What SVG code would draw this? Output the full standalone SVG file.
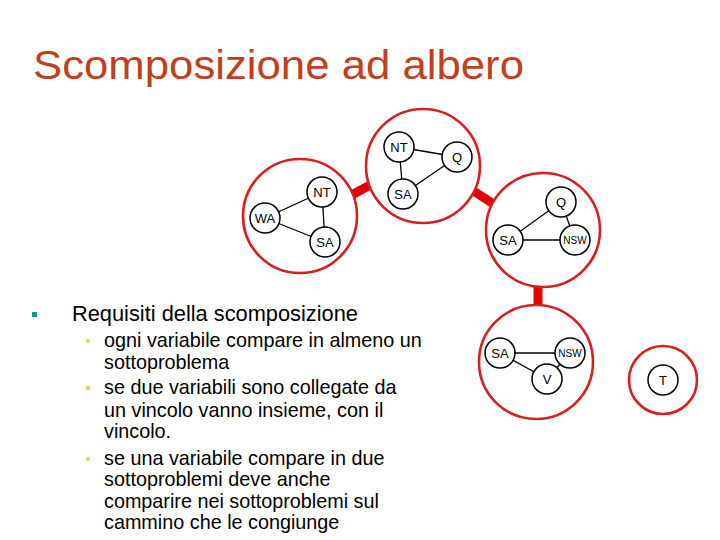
<svg xmlns="http://www.w3.org/2000/svg" width="720" height="540" viewBox="0 0 720 540">
<style>
.title{font-family:"Liberation Sans",Arial,sans-serif;font-size:40px;fill:#c0401c}
.b1{font-family:"Liberation Sans",Arial,sans-serif;font-size:21.8px;fill:#000}
.b2{font-family:"Liberation Sans",Arial,sans-serif;font-size:19.8px;fill:#000}
.grp{fill:#fff;stroke:#d61f1f;stroke-width:2.6}
.var{fill:#fff;stroke:#000;stroke-width:1.5}
.lbl{font-family:"Liberation Sans",Arial,sans-serif;font-size:13px;fill:#000;text-anchor:middle;dominant-baseline:central}
.e{stroke:#000;stroke-width:1.3}
.link{stroke:#e00000;stroke-width:9}
</style>
<rect width="720" height="540" fill="#fff"/>
<text class="title" x="33" y="79" textLength="491" lengthAdjust="spacingAndGlyphs">Scomposizione ad albero</text>

<g id="text">
<rect x="32" y="312" width="5" height="5" fill="#2e8b8b"/>
<text class="b1" x="72" y="321">Requisiti della scomposizione</text>
<rect x="86" y="339" width="4" height="4" fill="#e6d77a"/>
<rect x="86" y="386" width="4" height="4" fill="#e6d77a"/>
<rect x="86" y="457" width="4" height="4" fill="#e6d77a"/>
<text class="b2" x="104" y="347">ogni variabile compare in almeno un</text>
<text class="b2" x="104" y="369">sottoproblema</text>
<text class="b2" x="104" y="394">se due variabili sono collegate da</text>
<text class="b2" x="104" y="417">un vincolo vanno insieme, con il</text>
<text class="b2" x="104" y="438">vincolo.</text>
<text class="b2" x="104" y="465">se una variabile compare in due</text>
<text class="b2" x="104" y="486">sottoproblemi deve anche</text>
<text class="b2" x="104" y="508">comparire nei sottoproblemi sul</text>
<text class="b2" x="104" y="529">cammino che le congiunge</text>
</g>

<g id="connectors">
<line class="link" x1="350" y1="196" x2="372" y2="184"/>
<line class="link" x1="472" y1="190" x2="492" y2="203"/>
<line class="link" x1="538" y1="285" x2="538" y2="307"/>
</g>

<g id="sub1">
<circle class="grp" cx="300" cy="216" r="57"/>
<line class="e" x1="265" y1="218" x2="322" y2="192"/>
<line class="e" x1="265" y1="218" x2="325" y2="242"/>
<line class="e" x1="322" y1="192" x2="325" y2="242"/>
<circle class="var" cx="322" cy="192" r="15"/><text class="lbl" x="322" y="192">NT</text>
<circle class="var" cx="265" cy="218" r="15"/><text class="lbl" x="265" y="218">WA</text>
<circle class="var" cx="325" cy="242" r="15"/><text class="lbl" x="325" y="242">SA</text>
</g>

<g id="sub2">
<circle class="grp" cx="423" cy="166" r="57"/>
<line class="e" x1="399" y1="147" x2="457" y2="157"/>
<line class="e" x1="399" y1="147" x2="403" y2="194"/>
<line class="e" x1="457" y1="157" x2="403" y2="194"/>
<circle class="var" cx="399" cy="147" r="15"/><text class="lbl" x="399" y="147">NT</text>
<circle class="var" cx="457" cy="157" r="15"/><text class="lbl" x="457" y="157">Q</text>
<circle class="var" cx="403" cy="194" r="15"/><text class="lbl" x="403" y="194">SA</text>
</g>

<g id="sub3">
<circle class="grp" cx="543" cy="230" r="57"/>
<line class="e" x1="508" y1="240" x2="561" y2="202"/>
<line class="e" x1="508" y1="240" x2="575" y2="240"/>
<line class="e" x1="561" y1="202" x2="575" y2="240"/>
<circle class="var" cx="561" cy="202" r="15"/><text class="lbl" x="561" y="202">Q</text>
<circle class="var" cx="508" cy="240" r="15"/><text class="lbl" x="508" y="240">SA</text>
<circle class="var" cx="575" cy="240" r="15"/><text class="lbl" x="575" y="240" style="font-size:10px">NSW</text>
</g>

<g id="sub4">
<circle class="grp" cx="536" cy="362" r="57"/>
<line class="e" x1="500" y1="353" x2="570" y2="353"/>
<line class="e" x1="500" y1="353" x2="547" y2="379"/>
<line class="e" x1="547" y1="379" x2="570" y2="353"/>
<circle class="var" cx="500" cy="353" r="15"/><text class="lbl" x="500" y="353">SA</text>
<circle class="var" cx="547" cy="379" r="15"/><text class="lbl" x="547" y="379">V</text>
<circle class="var" cx="570" cy="353" r="15"/><text class="lbl" x="570" y="353" style="font-size:10px">NSW</text>
</g>

<g id="sub5">
<circle class="grp" cx="663" cy="380" r="34"/>
<circle class="var" cx="663" cy="380" r="15"/><text class="lbl" x="663" y="380">T</text>
</g>
</svg>
